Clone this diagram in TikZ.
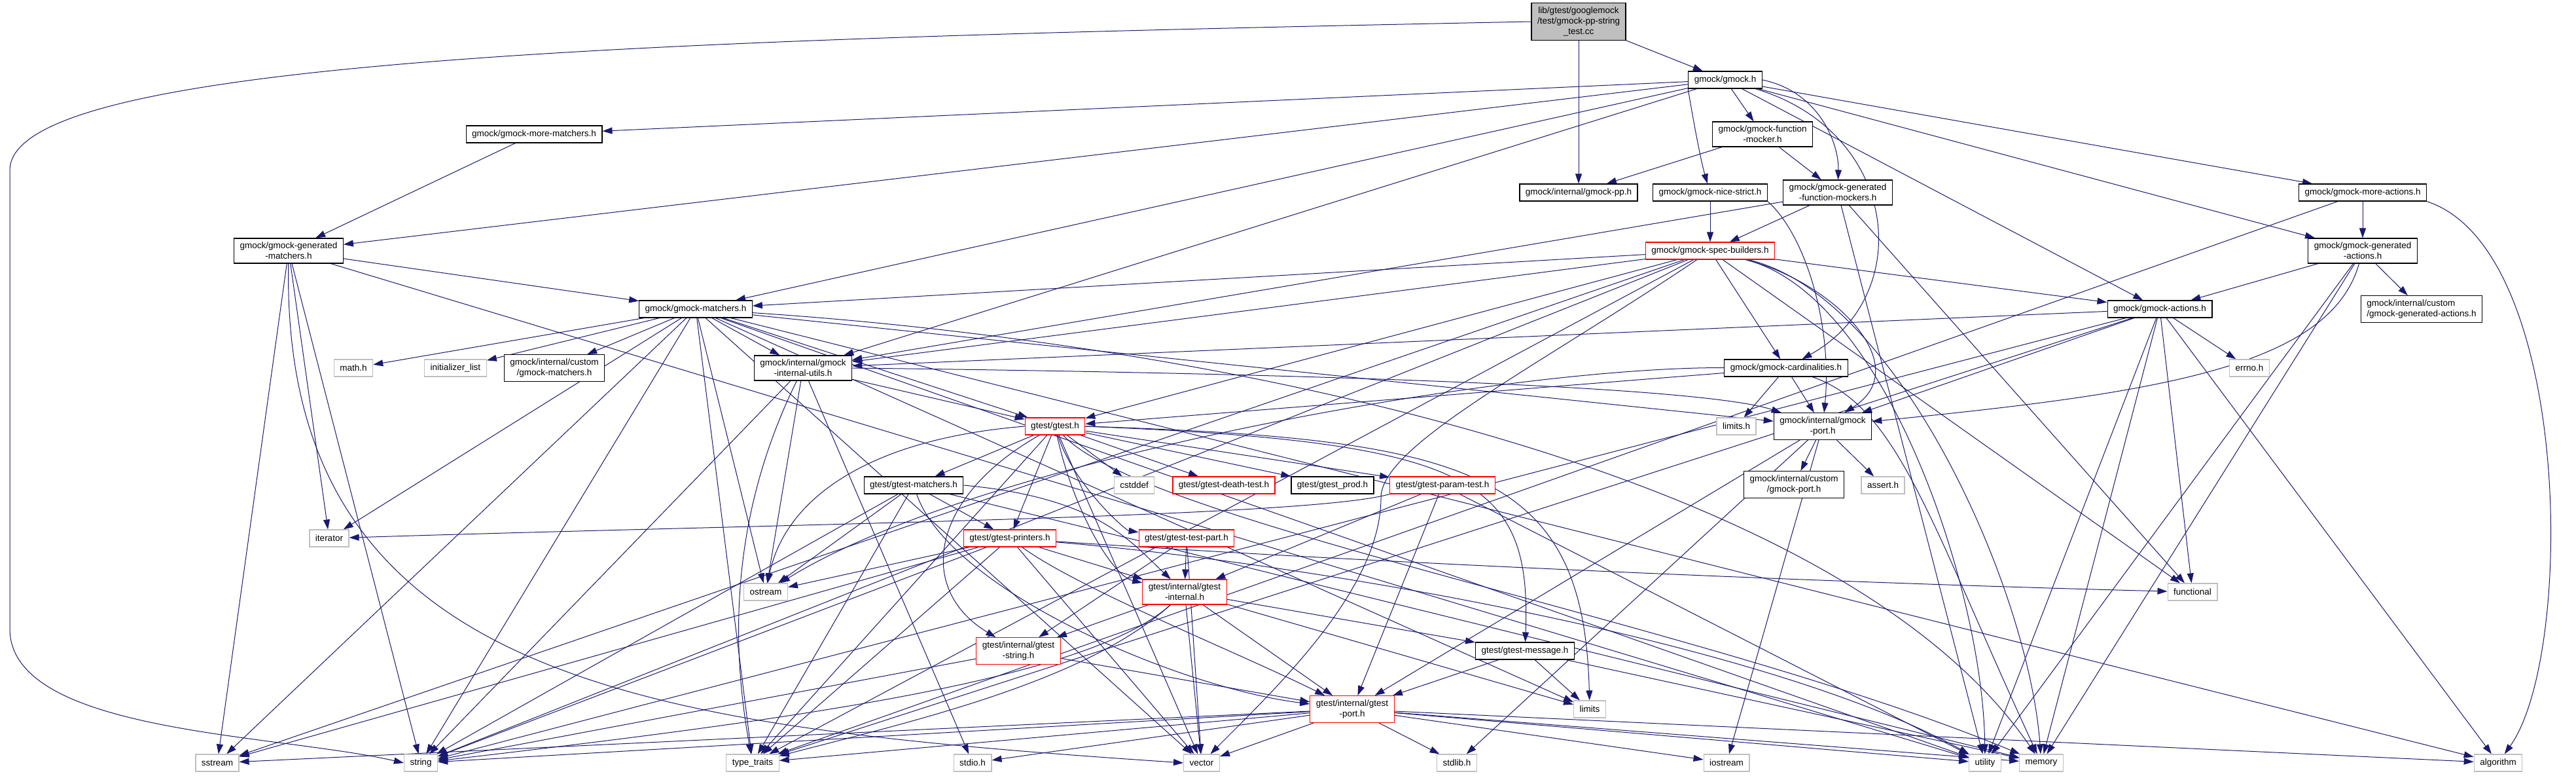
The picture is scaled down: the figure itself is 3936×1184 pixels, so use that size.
\documentclass[tikz,border=0pt]{standalone}
\usepackage{fontspec}
\setmainfont{Liberation Sans}
\usepackage{tikz}
\usetikzlibrary{arrows.meta,backgrounds}
\definecolor{edgeblue}{HTML}{191970}
\definecolor{sysgray}{HTML}{BFBFBF}
\tikzstyle{hdr} = [draw=black, line width=1.2pt, fill=white, align=center, inner xsep=9pt, inner ysep=6pt, minimum height=26pt, font=\fontsize{13.5}{16}\selectfont]
\tikzstyle{hdrred} = [hdr, draw=red]
\tikzstyle{hdrsys} = [hdr, draw=sysgray]
\tikzstyle{arrow} = [draw=edgeblue, line width=1pt, -{Triangle[length=15pt,width=10pt]}]

\begin{document}
\begin{tikzpicture}[x=1pt, y=-1pt]
\useasboundingbox (0,0) rectangle (3936,1184);
% gmock headers
\node[hdr, fill=sysgray] (root) at (2412,33) {lib/gtest/googlemock\\/test/gmock-pp-string\\\_test.cc};
\node[hdr] (gmock) at (2636,122) {gmock/gmock.h};
\node[hdr] (moremat) at (816,205) {gmock/gmock-more-matchers.h};
\node[hdr] (funcmock) at (2693,205) {gmock/gmock-function\\-mocker.h};
\node[hdr] (pp) at (2412,294) {gmock/internal/gmock-pp.h};
\node[hdr] (nicestrict) at (2613,294) {gmock/gmock-nice-strict.h};
\node[hdr] (genfunc) at (2808,294) {gmock/gmock-generated\\-function-mockers.h};
\node[hdr] (moreact) at (3610,294) {gmock/gmock-more-actions.h};
\node[hdr] (genmat) at (441,383) {gmock/gmock-generated\\-matchers.h};
\node[hdrred] (specb) at (2613,383) {gmock/gmock-spec-builders.h};
\node[hdr] (genact) at (3610,383) {gmock/gmock-generated\\-actions.h};
\node[hdr] (matchers) at (1063,472) {gmock/gmock-matchers.h};
\node[hdr] (actions) at (3300,472) {gmock/gmock-actions.h};
\node[hdr, align=left] (cgenact) at (3700,472) {gmock/internal/custom\\/gmock-generated-actions.h};
\node[hdrsys] (mathh) at (540,562) {math.h};
\node[hdrsys] (initlist) at (696,562) {initializer\_list};
\node[hdr] (cmatchers) at (847,562) {gmock/internal/custom\\/gmock-matchers.h};
\node[hdr] (iutils) at (1227,562) {gmock/internal/gmock\\-internal-utils.h};
\node[hdr] (card) at (2729,562) {gmock/gmock-cardinalities.h};
\node[hdrsys] (errnoh) at (3437,562) {errno.h};
\node[hdrsys] (limitsh) at (2653,651) {limits.h};
\node[hdr] (gport) at (2785,651) {gmock/internal/gmock\\-port.h};
\node[hdr] (cgport) at (2741,740) {gmock/internal/custom\\/gmock-port.h};
\node[hdrsys] (asserth) at (2877,741) {assert.h};
% gtest headers
\node[hdrred] (gtest) at (1612,651) {gtest/gtest.h};
\node[hdr] (gtmat) at (1396,741) {gtest/gtest-matchers.h};
\node[hdrsys] (cstddef) at (1733,741) {cstddef};
\node[hdrred] (death) at (1870,741) {gtest/gtest-death-test.h};
\node[hdr] (prod) at (2036,741) {gtest/gtest\_prod.h};
\node[hdrred] (param) at (2204,741) {gtest/gtest-param-test.h};
\node[hdrsys] (iterator) at (503,822) {iterator};
\node[hdrred] (printers) at (1543,822) {gtest/gtest-printers.h};
\node[hdrred] (testpart) at (1813,822) {gtest/gtest-test-part.h};
\node[hdrsys] (ostream) at (1170,904) {ostream};
\node[hdrred] (gtint) at (1810,904) {gtest/internal/gtest\\-internal.h};
\node[hdrsys] (functional) at (3350,904) {functional};
\node[hdrred] (gtstr) at (1556,994) {gtest/internal/gtest\\-string.h};
\node[hdr] (message) at (2330,994) {gtest/gtest-message.h};
\node[hdrred] (gtport) at (2066,1083) {gtest/internal/gtest\\-port.h};
\node[hdrsys] (limits) at (2429,1083) {limits};
% system headers
\node[hdrsys] (sstream) at (332,1165) {sstream};
\node[hdrsys] (string) at (643,1165) {string};
\node[hdrsys] (typetraits) at (1150,1165) {type\_traits};
\node[hdrsys] (stdioh) at (1486,1165) {stdio.h};
\node[hdrsys] (vector) at (1836,1165) {vector};
\node[hdrsys] (stdlibh) at (2226,1165) {stdlib.h};
\node[hdrsys] (iostream) at (2638,1165) {iostream};
\node[hdrsys] (utility) at (3033,1165) {utility};
\node[hdrsys] (memory) at (3119,1165) {memory};
\node[hdrsys] (algorithm) at (3817,1165) {algorithm};

\begin{scope}[on background layer]
\foreach \t in {gmock,pp} \draw[arrow] (root) -- (\t);
\draw[arrow] (root.west) .. controls (1000,60) and (15,90) .. (15,260) -- (15,960) .. controls (15,1120) and (420,1120) .. (string.west);
\foreach \t in {moremat,genmat,matchers,iutils,funcmock,actions,genact,moreact} \draw[arrow] (gmock) -- (\t);
\draw[arrow] (gmock) .. controls (2900,200) and (2930,450) .. (card);
\draw[arrow] (gmock.east) .. controls (2780,140) and (2810,220) .. (genfunc);
\draw[arrow] (gmock.south west) .. controls (2590,200) and (2600,250) .. (nicestrict);
\foreach \t in {genfunc,pp} \draw[arrow] (funcmock) -- (\t);
\foreach \t in {specb,iutils,functional,utility} \draw[arrow] (genfunc) -- (\t);
\draw[arrow] (nicestrict) -- (specb);
\draw[arrow] (nicestrict.south east) .. controls (2760,360) and (2800,500) .. (gport);
\foreach \t in {genact,typetraits} \draw[arrow] (moreact) -- (\t);
\draw[arrow] (moreact.south east) .. controls (3930,380) and (3935,1000) .. (algorithm);
\foreach \t in {actions,cgenact,memory,utility} \draw[arrow] (genact) -- (\t);
\draw[arrow] (genact) .. controls (3560,560) and (3300,600) .. (gport);
\draw[arrow] (moremat) -- (genmat);
\foreach \t in {matchers,iterator,sstream,string,utility} \draw[arrow] (genmat) -- (\t);
\draw[arrow] (genmat) .. controls (430,1050) and (1000,1110) .. (vector.west);
\foreach \t in {actions,card,matchers,iutils,gtest,functional,sstream,string,typetraits} \draw[arrow] (specb) -- (\t);
\draw[arrow] (specb) .. controls (2800,430) and (2930,560) .. (gport);
\draw[arrow] (specb) .. controls (2900,450) and (3100,900) .. (memory);
\draw[arrow] (specb) .. controls (2880,450) and (3030,900) .. (utility);
\draw[arrow] (specb) .. controls (2350,560) and (2110,680) .. (2110,760) .. controls (2110,900) and (1950,1050) .. (vector);
\foreach \t in {iutils,gport,errnoh,functional,memory,utility,algorithm,string,typetraits} \draw[arrow] (actions) -- (\t);
\foreach \t in {limitsh,gport,gtest} \draw[arrow] (card) -- (\t);
\draw[arrow] (card) .. controls (2900,620) and (2950,800) .. (memory);
\draw[arrow] (card) .. controls (2300,560) and (1500,700) .. (ostream);
\foreach \t in {mathh,initlist,cmatchers,iutils,gtest,gport,iterator,ostream,sstream,string,typetraits,vector,limits,utility,algorithm} \draw[arrow] (matchers) -- (\t);
\draw[arrow] (matchers) .. controls (1800,520) and (2800,700) .. (memory);
\foreach \t in {gtest,stdioh,ostream,string} \draw[arrow] (iutils) -- (\t);
\draw[arrow] (iutils) .. controls (1110,800) and (1120,1000) .. (typetraits);
\draw[arrow] (iutils.east) .. controls (2000,570) and (2600,590) .. (gport);
\foreach \t in {cgport,asserth,stdlibh,iostream,gtport} \draw[arrow] (gport) -- (\t);
% gtest
\foreach \t in {gtmat,cstddef,death,prod,param,printers,typetraits,vector} \draw[arrow] (gtest) -- (\t);
\draw[arrow] (gtest) .. controls (1640,740) and (1720,810) .. (testpart);
\draw[arrow] (gtest) .. controls (1640,780) and (1700,880) .. (gtint);
\draw[arrow] (gtest) .. controls (1420,760) and (1400,900) .. (gtstr);
\draw[arrow] (gtest.east) .. controls (2250,675) and (2340,730) .. (message);
\draw[arrow] (gtest.east) .. controls (2250,670) and (2420,720) .. (limits);
\draw[arrow] (gtest) .. controls (1750,800) and (2600,950) .. (memory);
\draw[arrow] (gtest.west) .. controls (1330,670) and (1200,760) .. (ostream);
\foreach \t in {printers,ostream,string,typetraits,memory} \draw[arrow] (gtmat) -- (\t);
\draw[arrow] (gtmat.east) .. controls (1680,760) and (1730,830) .. (gtint);
\draw[arrow] (gtmat) .. controls (1450,900) and (1800,1050) .. (gtport);
\foreach \t in {ostream,sstream,string,typetraits,vector,gtint} \draw[arrow] (printers) -- (\t);
\draw[arrow] (printers) .. controls (2100,860) and (2800,890) .. (functional);
\draw[arrow] (printers) .. controls (2000,860) and (2700,980) .. (utility);
\draw[arrow] (printers) .. controls (1650,900) and (1900,1000) .. (gtport);
\foreach \t in {vector,gtint,gtstr} \draw[arrow] (testpart) -- (\t);
\foreach \t in {utility,gtint,gtport} \draw[arrow] (param) -- (\t);
\draw[arrow] (param.south west) .. controls (2000,790) and (1200,800) .. (iterator);
\foreach \t in {limits,vector,message,gtstr,gtport} \draw[arrow] (gtint) -- (\t);
\draw[arrow] (gtint) .. controls (1660,1040) and (1400,1100) .. (typetraits);
\draw[arrow] (gtint) .. controls (1660,1040) and (1200,1100) .. (string);
\foreach \t in {string,gtport} \draw[arrow] (gtstr) -- (\t);
\foreach \t in {limits,memory,gtport} \draw[arrow] (message) -- (\t);
\foreach \t in {stdioh,stdlibh,vector,sstream,string,typetraits,algorithm,memory,iostream,utility} \draw[arrow] (gtport) -- (\t);
\end{scope}
\end{tikzpicture}
\end{document}
